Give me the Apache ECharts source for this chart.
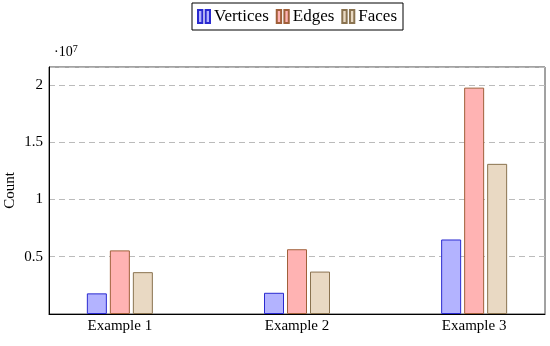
<!DOCTYPE html>
<html>
<head>
<meta charset="utf-8">
<script src="https://cdn.jsdelivr.net/npm/echarts@6/dist/echarts.min.js"></script>
<style>html,body{margin:0;padding:0;background:#fff}#c{width:550px;height:346px}</style>
</head>
<body>
<div id="c"></div>
<script>
var categories = ['Example 1', 'Example 2', 'Example 3'];
var categoryPos = [1, 2, 3];
var vertices = [0.18e7, 0.185e7, 0.65e7];
var edges = [0.555e7, 0.565e7, 1.975e7];
var faces = [0.365e7, 0.37e7, 1.31e7];
var yTicks = [0.5e7, 1e7, 1.5e7, 2e7];

function pairs(vals) { return vals.map(function (v, i) { return [categoryPos[i], v]; }); }
var FONT = 'Liberation Serif';
var iconPath = 'path://M0,0h4v12h-4z M7,0h4v12h-4z';

var chart = echarts.init(document.getElementById('c'));
chart.setOption({
  animation: false,
  backgroundColor: '#fff',
  textStyle: { fontFamily: FONT },
  grid: { left: 49, right: 5, top: 67, bottom: 32, show: true, borderColor: '#444', borderWidth: 1, outerBoundsMode: 'none', containLabel: false },
  legend: {
    top: 3, left: 192,
    borderColor: '#000', borderWidth: 1, padding: [5, 6, 5, 5],
    itemWidth: 12, itemHeight: 14, itemGap: 7,
    textStyle: { fontFamily: FONT, fontSize: 17, color: '#000', padding: [0, 0, 0, -1] },
    data: [
      { name: 'Vertices', icon: iconPath },
      { name: 'Edges', icon: iconPath },
      { name: 'Faces', icon: iconPath }
    ]
  },
  graphic: [{
    type: 'text', left: 54, top: 44,
    style: { rich: { a: { fontFamily: FONT, fontSize: 14, fill: '#000' }, s: { fontFamily: FONT, fontSize: 10, fill: '#000', verticalAlign: 'top', padding: [0, 0, 7, 0] } },
             text: '{a|·10}{s|7}' }
  }],
  xAxis: {
    type: 'value', min: 0.6, max: 3.4,
    axisLine: { show: true, lineStyle: { color: '#000', width: 1 } },
    axisTick: { show: false },
    splitLine: { show: false },
    axisLabel: {
      customValues: categoryPos,
      fontFamily: FONT, fontSize: 15, color: '#000', margin: 5,
      formatter: function (v) { var i = categoryPos.indexOf(v); return i >= 0 ? categories[i] : ''; }
    }
  },
  yAxis: {
    type: 'value', min: 0, max: 2.155e7, interval: 0.5e7,
    name: 'Count', nameLocation: 'middle', nameGap: 31, nameMoveOverlap: false,
    nameTextStyle: { fontFamily: FONT, fontSize: 15, color: '#000' },
    axisLine: { show: true, lineStyle: { color: '#000', width: 1 } },
    axisTick: { show: false },
    splitLine: { show: true, lineStyle: { color: '#bbb', type: [6, 4], width: 1 } },
    axisLabel: {
      fontFamily: FONT, fontSize: 15, color: '#000', margin: 6,
      formatter: function (v) {
        for (var i = 0; i < yTicks.length; i++) { if (Math.abs(v - yTicks[i]) < 1) return String(yTicks[i] / 1e7); }
        return '';
      }
    }
  },
  series: [
    { name: 'Vertices', type: 'bar', barWidth: 20, barGap: '15%', data: pairs(vertices),
      itemStyle: { color: '#b3b3ff', borderColor: '#2a2ad0', borderWidth: 1 } },
    { name: 'Edges', type: 'bar', barWidth: 20, barGap: '15%', data: pairs(edges),
      itemStyle: { color: '#ffb3b3', borderColor: '#a0603a', borderWidth: 1 } },
    { name: 'Faces', type: 'bar', barWidth: 20, barGap: '15%', data: pairs(faces),
      itemStyle: { color: '#e9d9c3', borderColor: '#8a7350', borderWidth: 1 } }
  ]
});
</script>
</body>
</html>
